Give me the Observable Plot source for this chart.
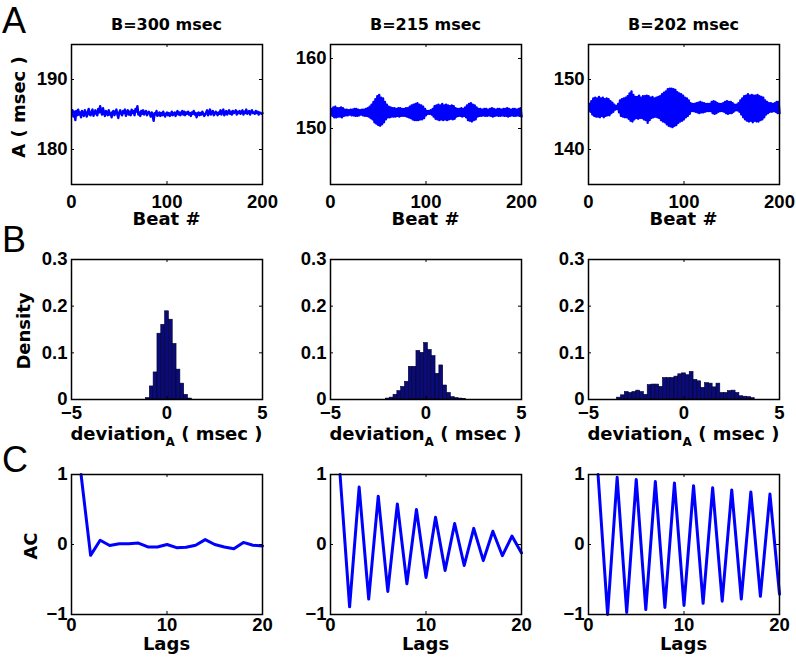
<!DOCTYPE html>
<html><head><meta charset="utf-8">
<script src="https://cdn.jsdelivr.net/npm/d3@7"></script>
<script src="https://cdn.jsdelivr.net/npm/@observablehq/plot@0.6"></script>
<style>
body{margin:0;background:#fff;}
#chart{position:relative;width:796px;height:663px;background:#fff;overflow:hidden;}
#chart svg.panel{position:absolute;}
#overlay{position:absolute;left:0;top:0;pointer-events:none;}
</style></head><body><div id="chart"></div>
<script>
// ---------- labels ----------
const panelTitles = ["B=300 msec", "B=215 msec", "B=202 msec"];
const rowLetters = ["A", "B", "C"];
const beatTicks = [0, 100, 200];
const devTicks = [-5, 0, 5];
const lagTicks = [0, 10, 20];
const densTicks = [0, 0.1, 0.2, 0.3];
const acTicks = [-1, 0, 1];
const aTicks300 = [180, 190], aTicks215 = [150, 160], aTicks202 = [140, 150];
const aDomain300 = [175, 195], aDomain215 = [142, 162], aDomain202 = [135, 155];

// ---------- row A: A (msec) per beat, beats 1..200 ----------
const seriesA300 = [
185.6,184.7,185.4,184.2,185.5,184.9,185.7,185.0,185.3,184.6,
185.5,185.1,184.8,185.6,185.2,184.7,185.3,185.8,185.0,184.9,
185.4,185.7,184.8,185.2,185.6,185.1,184.9,185.8,185.3,186.2,
185.4,185.0,185.9,185.2,184.8,185.5,185.3,184.9,185.6,185.0,
185.2,184.6,185.4,185.5,184.9,185.3,185.7,185.0,184.5,185.3,
185.6,185.1,184.9,185.5,185.2,185.7,184.8,185.3,185.6,185.0,
185.4,184.9,185.7,185.2,185.5,184.9,185.8,185.4,186.2,185.0,
185.3,184.8,185.5,185.1,185.6,185.0,185.3,185.5,184.9,185.2,
185.4,185.1,184.7,185.3,184.8,184.1,185.2,185.0,185.5,184.8,
185.0,185.3,184.8,185.2,184.9,185.4,185.0,184.7,185.1,185.3,
184.9,185.2,184.8,185.0,185.4,184.9,185.1,185.3,184.8,185.2,
185.5,185.0,185.3,184.9,185.2,185.5,185.0,185.4,184.9,185.3,
185.1,185.4,185.0,185.2,184.8,185.3,185.1,185.5,185.0,185.2,
184.6,185.1,185.3,184.9,185.2,185.0,185.4,185.1,184.8,185.0,
185.3,185.6,184.9,185.2,185.7,185.0,185.3,185.5,184.9,185.1,
185.4,185.2,184.9,185.3,185.1,185.6,185.0,185.4,185.7,184.9,
185.2,185.5,185.0,185.3,185.6,185.1,185.4,185.0,185.5,185.2,
185.3,185.6,185.0,185.4,185.2,185.5,185.1,185.3,185.6,185.0,
185.4,185.2,185.7,185.1,185.3,185.5,185.0,185.4,185.6,185.2,
185.3,185.1,185.5,185.2,185.4,185.0,185.3,185.2,185.1,185.2];
const seriesA215 = [
152.8,151.8,153.0,151.6,153.1,151.6,152.9,151.7,152.9,151.7,
153.0,151.6,152.9,151.8,152.7,151.9,152.7,151.9,152.6,152.0,
152.7,151.9,152.7,151.9,152.8,151.8,152.8,151.8,152.7,151.9,
152.6,152.0,152.7,151.9,152.7,151.8,152.8,151.8,152.9,151.7,
153.1,151.5,153.4,151.3,153.8,150.9,154.2,150.7,154.6,150.5,
154.8,150.4,154.4,150.6,154.3,150.9,153.8,151.3,153.4,151.6,
153.1,151.6,153.0,151.7,152.9,151.7,152.9,151.7,152.8,151.8,
152.9,151.7,152.9,151.8,152.8,151.8,152.8,151.8,152.9,151.7,
152.9,151.6,153.1,151.5,153.3,151.3,153.4,151.2,153.5,151.2,
153.6,151.2,153.4,151.3,153.3,151.3,153.1,151.5,152.8,151.9,
152.5,152.1,152.5,152.1,152.6,152.0,152.8,151.7,153.2,151.4,
153.3,151.3,153.4,151.2,153.3,151.3,153.5,151.2,153.3,151.3,
153.4,151.2,153.3,151.3,153.2,151.4,153.3,151.3,153.2,151.4,
152.9,151.7,152.8,151.8,152.8,151.8,152.9,151.7,152.8,151.8,
153.0,151.6,153.3,151.2,153.5,151.1,153.6,151.0,153.4,151.2,
153.3,151.3,153.0,151.7,152.8,151.8,152.8,151.8,152.7,151.9,
152.8,151.8,152.8,151.8,152.7,151.9,152.8,151.8,152.9,151.7,
152.8,151.8,152.7,151.9,152.8,151.8,152.8,151.8,152.7,151.9,
152.8,151.8,152.8,151.8,152.9,151.7,152.8,151.8,152.7,151.9,
152.8,151.8,152.8,151.8,152.7,151.9,152.8,151.8,152.9,151.7];
const seriesA202 = [
146.5,145.4,146.9,145.0,147.3,144.8,147.4,144.7,147.3,144.7,
147.5,144.6,147.3,144.8,147.4,144.6,147.2,144.8,147.3,144.9,
147.2,144.9,146.9,145.2,146.7,145.4,146.4,145.7,146.2,145.8,
146.5,145.3,147.0,144.8,147.2,144.7,147.3,144.6,147.4,144.6,
147.6,144.4,148.0,144.1,148.3,144.0,147.8,144.3,147.5,144.5,
147.5,144.4,147.7,144.5,147.4,144.5,147.6,144.3,147.6,144.2,
147.7,143.8,147.6,144.2,147.4,144.5,147.5,144.6,147.3,144.7,
147.4,144.6,147.5,144.5,147.6,144.2,147.9,144.0,148.1,143.9,
148.3,143.6,148.6,143.4,148.7,143.3,148.7,143.2,148.6,143.4,
148.5,143.5,148.2,143.8,148.0,144.0,147.9,144.1,147.7,144.3,
147.4,144.6,147.3,144.8,147.0,145.1,146.6,145.5,146.5,145.5,
146.5,145.4,146.6,145.3,146.7,145.2,146.8,145.3,146.7,145.3,
146.6,145.4,146.5,145.5,146.5,145.5,146.5,145.5,146.8,145.2,
146.9,145.1,146.8,145.2,146.6,145.4,146.5,145.5,146.5,145.5,
146.6,145.4,146.8,145.2,146.9,145.1,146.8,145.2,146.8,145.2,
146.6,145.4,146.4,145.6,146.4,145.6,146.6,145.4,147.0,145.0,
147.3,144.6,147.6,144.3,147.7,144.1,147.9,144.0,147.7,144.1,
147.8,143.9,147.7,144.1,147.7,144.0,147.8,144.0,147.6,144.2,
147.5,144.3,147.4,144.6,147.0,145.0,146.8,145.2,146.6,145.4,
146.6,145.4,146.5,145.5,146.6,145.4,146.8,145.2,146.8,145.2];

// ---------- row B: histograms (bin centers, bin width 0.2, density) ----------
const histCenters300 = [-1.0,-0.8,-0.6,-0.4,-0.2,0.0,0.2,0.4,0.6,0.8,1.0,1.2];
const histDensity300 = [0.003,0.028,0.058,0.141,0.16,0.189,0.171,0.119,0.064,0.034,0.01,0.002];
const histCenters215 = [-2.0,-1.8,-1.6,-1.4,-1.2,-1.0,-0.8,-0.6,-0.4,-0.2,0.0,0.2,0.4,0.6,0.8,1.0,1.2,1.4,1.6,1.8,2.0];
const histDensity215 = [0.002,0.004,0.01,0.018,0.027,0.038,0.07,0.07,0.104,0.1,0.121,0.106,0.093,0.055,0.073,0.03,0.014,0.005,0.003,0.002,0.001];
const histCenters202 = [-3.4,-3.2,-3.0,-2.8,-2.6,-2.4,-2.2,-2.0,-1.8,-1.6,-1.4,-1.2,-1.0,-0.8,-0.6,-0.4,-0.2,0.0,
                        0.2,0.4,0.6,0.8,1.0,1.2,1.4,1.6,1.8,2.0,2.2,2.4,2.6,2.8,3.0,3.2,3.4,3.6];
const histDensity202 = [0.004,0.009,0.016,0.014,0.016,0.019,0.016,0.01,0.031,0.032,0.032,0.027,0.046,0.046,0.046,0.049,0.054,0.056,
                        0.052,0.059,0.042,0.039,0.025,0.035,0.034,0.026,0.034,0.014,0.014,0.018,0.019,0.014,0.007,0.006,0.005,0.003];
const binWidth = 0.2;

// ---------- row C: autocorrelation, lags 1..20 ----------
const lags = [1,2,3,4,5,6,7,8,9,10,11,12,13,14,15,16,17,18,19,20];
const ac300 = [1,-0.155,0.06,-0.015,0.01,0.01,0.02,-0.035,-0.035,0.0,-0.045,-0.04,-0.01,0.07,0.0,-0.035,-0.06,0.03,-0.01,-0.02];
const ac215 = [1,-0.89,0.82,-0.78,0.69,-0.67,0.58,-0.56,0.5,-0.47,0.39,-0.37,0.3,-0.3,0.23,-0.23,0.19,-0.16,0.12,-0.12];
const ac202 = [1,-1.0,0.96,-0.97,0.93,-0.93,0.9,-0.9,0.88,-0.87,0.84,-0.84,0.81,-0.81,0.78,-0.78,0.75,-0.74,0.72,-0.71];

// ---------- layout ----------
const BOX_W = 191, BOX_H = 140;
const ML = 60, MR = 12, MT = 12, MB = 40;
const colX = [71, 330, 588];
const rowY = [44, 259, 474];
const chart = document.getElementById("chart");
const FONT = "'DejaVu Sans', sans-serif";
const TICKFONT = "'Liberation Sans', Arial, Helvetica, sans-serif";
const intFmt = d => (d < 0 ? "\u2212" : "") + Math.abs(d);

function panel(col, row, o) {
  const tk = 3;
  const svg = Plot.plot({
    width: ML + BOX_W + MR, height: MT + BOX_H + MB,
    marginLeft: ML, marginRight: MR, marginTop: MT, marginBottom: MB,
    x: {domain: o.xDomain}, y: {domain: o.yDomain},
    style: {background: "transparent", fontFamily: TICKFONT, fontWeight: "bold", fontSize: "18.5px", color: "black", overflow: "visible"},
    marks: [
      ...o.marks,
      Plot.frame({stroke: "black", strokeWidth: 1.5}),
      Plot.tickX(o.xTicks, {x: d => d, insetTop: BOX_H - tk, stroke: "black"}),
      Plot.tickX(o.xTicks, {x: d => d, insetBottom: BOX_H - tk, stroke: "black"}),
      Plot.tickY(o.yTicks, {y: d => d, insetRight: BOX_W - tk, stroke: "black"}),
      Plot.tickY(o.yTicks, {y: d => d, insetLeft: BOX_W - tk, stroke: "black"}),
      Plot.axisX({ticks: o.xTicks, tickSize: 0, tickPadding: o.xPad, label: null, tickFormat: o.xFmt || intFmt}),
      Plot.axisY({ticks: o.yTicks, tickSize: 0, tickPadding: 4, label: null, tickFormat: o.yFmt || intFmt})
    ]
  });
  svg.classList.add("panel");
  svg.style.left = (colX[col] - ML) + "px";
  svg.style.top = (rowY[row] - MT) + "px";
  chart.appendChild(svg);
}

const seriesA = [seriesA300, seriesA215, seriesA202];
const aTicks = [aTicks300, aTicks215, aTicks202];
const aDomains = [aDomain300, aDomain215, aDomain202];
const histC = [histCenters300, histCenters215, histCenters202];
const histD = [histDensity300, histDensity215, histDensity202];
const acs = [ac300, ac215, ac202];

for (let c = 0; c < 3; c++) {
  panel(c, 0, {
    xDomain: [0, 200], yDomain: aDomains[c], xTicks: beatTicks, yTicks: aTicks[c], xPad: 10,
    marks: [Plot.line(seriesA[c], {x: (d, i) => i + 1, y: d => d, stroke: "#0000ff", strokeWidth: 2.4})]
  });
  const bins = histC[c].map((x, i) => ({x1: x - binWidth / 2, x2: x + binWidth / 2, y: histD[c][i]}));
  panel(c, 1, {
    xDomain: [-5, 5], yDomain: [0, 0.3], xTicks: devTicks, yTicks: densTicks, xPad: 6,
    yFmt: d => d === 0 ? "0" : d3.format(".1f")(d),
    marks: [Plot.rectY(bins, {x1: "x1", x2: "x2", y: "y", fill: "#0a0a78", stroke: "#00002a", strokeWidth: 0.6, inset: 0})]
  });
  const acData = lags.map((l, i) => ({lag: l, ac: acs[c][i]}));
  panel(c, 2, {
    xDomain: [0, 20], yDomain: [-1, 1], xTicks: lagTicks, yTicks: acTicks, xPad: 3,
    marks: [Plot.line(acData, {x: "lag", y: "ac", stroke: "#0000ff", strokeWidth: 3})]
  });
}

// ---------- text overlay ----------
const ov = d3.select(chart).append("svg").attr("id", "overlay").attr("width", 796).attr("height", 663)
  .attr("font-family", FONT).attr("font-weight", "bold");
const centers = colX.map(x => x + BOX_W / 2);
centers.forEach((cx, i) => {
  ov.append("text").attr("x", cx).attr("y", 30).attr("text-anchor", "middle").attr("font-size", 16).text(panelTitles[i]);
  ov.append("text").attr("x", cx).attr("y", 225).attr("text-anchor", "middle").attr("font-size", 18).text("Beat #");
  const t = ov.append("text").attr("x", cx).attr("y", 440).attr("text-anchor", "middle").attr("font-size", 18);
  t.append("tspan").text("deviation");
  t.append("tspan").attr("dy", 6).attr("font-size", 12).text("A");
  t.append("tspan").attr("dy", -6).text(" ( msec )");
  ov.append("text").attr("x", cx).attr("y", 650).attr("text-anchor", "middle").attr("font-size", 18).text("Lags");
});
[["A ( msec )", 25, 107], ["Density", 30, 331], ["AC", 37, 546]].forEach(([s, x, y]) => {
  ov.append("text").attr("transform", `translate(${x},${y}) rotate(-90)`).attr("text-anchor", "middle").attr("font-size", 18).text(s);
});
[33, 252, 472].forEach((y, i) => {
  ov.append("text").attr("x", 2).attr("y", y).attr("font-family", "'Liberation Sans', Arial, sans-serif")
    .attr("font-weight", "normal").attr("font-size", 36).text(rowLetters[i]);
});
</script></body></html>
